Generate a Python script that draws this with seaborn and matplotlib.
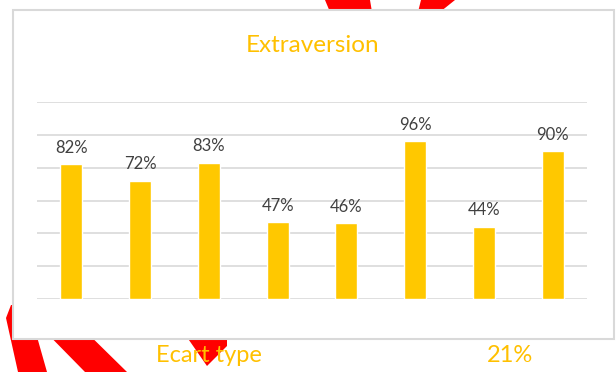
import matplotlib
matplotlib.use("Agg")
import matplotlib.pyplot as plt
from matplotlib.patches import Polygon, Rectangle
import seaborn as sns
import pandas as pd

# ---- data ----
items = ["Q1", "Q2", "Q3", "Q4", "Q5", "Q6", "Q7", "Q8"]
values = [0.82, 0.72, 0.83, 0.47, 0.46, 0.96, 0.44, 0.90]
title = "Extraversion"
footer_label = "Ecart type"
footer_value = "21%"

YELLOW = "#FFC800"
TITLE_YELLOW = "#FFC000"
GREY_TXT = "#404040"
GRID = "#D9D9D9"
RED = "#FF0000"

sns.set_theme(style="white")
plt.rcParams["font.family"] = ["Lato", "DejaVu Sans"]

W, H = 616, 372
fig = plt.figure(figsize=(W / 100, H / 100), dpi=100)
fig.patch.set_facecolor("white")

# background decoration (pixel coordinates, y downward)
bg = fig.add_axes([0, 0, 1, 1])
bg.set_xlim(0, W)
bg.set_ylim(H, 0)
bg.axis("off")
stripes = [
    [(6, 318), (11, 305), (28, 305), (47, 372), (18, 372)],
    [(30, 316), (70, 316), (127, 372), (85, 372)],
    [(182, 330), (227, 330), (227, 346), (207, 366)],
    [(325, 0), (370, 0), (372, 12), (330, 12)],
    [(421, 0), (455, 0), (440, 12), (418, 12)],
]
for pts in stripes:
    bg.add_patch(Polygon(pts, closed=True, facecolor=RED, edgecolor="none", zorder=1))
bg.add_patch(Rectangle((13, 10), 601, 329, facecolor="white", edgecolor=GRID,
                       linewidth=1.5, zorder=2))
bg.text(313, 46, title, color=TITLE_YELLOW, fontsize=17.5, ha="center", va="center", zorder=3)
bg.text(209, 356, footer_label, color=TITLE_YELLOW, fontsize=17, ha="center", va="center", zorder=3)
bg.text(510, 356, footer_value, color=TITLE_YELLOW, fontsize=17, ha="center", va="center", zorder=3)

# chart
df = pd.DataFrame({"item": items, "value": values})
ax = fig.add_axes([37 / W, (H - 299) / H, 550 / W, 197 / H])
ax.patch.set_alpha(0)
sns.barplot(data=df, x="item", y="value", color=YELLOW, saturation=1, width=0.32, ax=ax, zorder=3)
ax.set_xlim(-0.5, len(items) - 0.5)
ax.set_ylim(0, 1.2)
ax.set_yticks([0, 0.2, 0.4, 0.6, 0.8, 1.0, 1.2])
ax.yaxis.grid(True, color=GRID, linewidth=1.2)
ax.set_axisbelow(True)
for s in ax.spines.values():
    s.set_visible(False)
ax.set_xlabel("")
ax.set_ylabel("")
ax.set_xticklabels([])
ax.set_yticklabels([])
ax.tick_params(length=0)
ax.bar_label(ax.containers[0], labels=[f"{round(v * 100)}%" for v in values],
             padding=6, color=GREY_TXT, fontsize=12)

fig.savefig("out.png", dpi=100)
